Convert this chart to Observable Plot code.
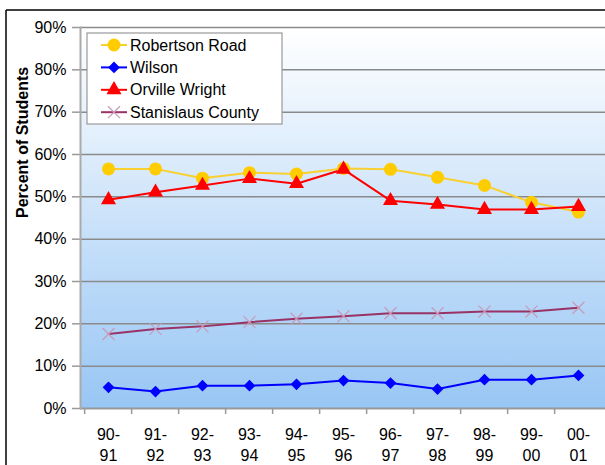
<!DOCTYPE html>
<html><head><meta charset="utf-8">
<script src="https://cdn.jsdelivr.net/npm/d3@7"></script>
<script src="https://cdn.jsdelivr.net/npm/@observablehq/plot@0.6"></script>
<style>body{margin:0;background:#fff;font-family:"Liberation Sans",Arial,sans-serif}</style>
</head><body><div id="chart"></div><script>
const years = ["90-91","91-92","92-93","93-94","94-95","95-96","96-97","97-98","98-99","99-00","00-01"];
const robertsonRoad = [56.6,56.6,54.4,55.7,55.4,56.7,56.5,54.6,52.7,48.7,46.4];
const wilson = [5.0,4.0,5.4,5.4,5.7,6.6,6.0,4.6,6.8,6.8,7.8];
const orvilleWright = [49.3,51.1,52.7,54.3,53.1,56.5,49.1,48.2,47.0,47.0,47.7];
const stanislausCounty = [17.6,18.8,19.4,20.4,21.2,21.8,22.5,22.5,22.9,22.9,23.8];
const yTicks = [0,10,20,30,40,50,60,70,80,90];
const seriesNames = ["Robertson Road","Wilson","Orville Wright","Stanislaus County"];
const seriesValues = [robertsonRoad, wilson, orvilleWright, stanislausCounty];

const styles = [
  {line:"#F8D030", fill:"#FFCC00", stroke:"none", symbol:"circle", d3s:d3.symbolCircle, r:6.5, sw:2},
  {line:"#0000FF", fill:"#0000FF", stroke:"none", symbol:"diamond2", d3s:d3.symbolDiamond2, r:5.3, sw:2},
  {line:"#FF0000", fill:"#FF0000", stroke:"none", symbol:"triangle", d3s:d3.symbolTriangle, r:5.6, sw:2},
  {line:"#993366", fill:"none", stroke:"#C89AB8", symbol:"times", d3s:d3.symbolTimes, r:5.5, sw:2}
];

const table = seriesNames.flatMap((s, i) => years.map((y, j) => ({series: s, year: y, value: seriesValues[i][j]})));

const W = 605, H = 465, mL = 80, mR = 0, mT = 27, mB = 57;
const step = (W - mL - mR) / years.length;

const marks = [
  Plot.frame({fill: "url(#bg)", stroke: null}),
  Plot.gridY(yTicks, {stroke: "#8a8a8a", strokeOpacity: 1, strokeWidth: 1.5}),
  Plot.axisX({tickSize: 6, dx: -step / 2, tickFormat: () => "", stroke: "#999", strokeWidth: 1.5, label: null}),
  Plot.axisX({tickSize: 0, tickPadding: 17, tickFormat: d => d.replace("-", "-\n"), lineHeight: 1.3, fontSize: 16, label: null}),
  Plot.ruleY([0], {stroke: "#999", strokeWidth: 1.5}),
  Plot.axisY(yTicks, {tickSize: 8, tickPadding: 6, tickFormat: d => d + "%", stroke: "#999", strokeWidth: 1.5, fontSize: 16, label: null}),
  Plot.frame({anchor: "left", stroke: "#aaa", strokeWidth: 2}),
  Plot.text(["Percent of Students"], {frameAnchor: "left", rotate: -90, dx: -58, fontWeight: "bold", fontSize: 16, fill: "#000"})
];
seriesNames.forEach((s, i) => {
  const st = styles[i];
  const data = table.filter(d => d.series === s);
  marks.push(Plot.line(data, {x: "year", y: "value", stroke: st.line, strokeWidth: st.sw}));
});
seriesNames.forEach((s, i) => {
  const st = styles[i];
  const data = table.filter(d => d.series === s);
  marks.push(Plot.dot(data, {x: "year", y: "value", symbol: () => st.symbol, r: st.r, fill: st.fill, stroke: st.stroke, strokeWidth: 1.2}));
});

const chart = Plot.plot({
  width: W, height: H, marginLeft: mL, marginRight: mR, marginTop: mT, marginBottom: mB,
  style: {fontFamily: "'Liberation Sans', Arial, sans-serif", fontSize: "16px", color: "#000", background: "transparent", overflow: "visible"},
  x: {type: "point", domain: years, padding: 0.5, align: 0.5, axis: null},
  y: {domain: [0, 90], axis: null},
  symbol: {type: "identity"},
  marks
});

const svg = d3.select(chart);
const defs = svg.insert("defs", ":first-child");
const grad = defs.append("linearGradient").attr("id", "bg").attr("x1", 0).attr("y1", 0).attr("x2", 0).attr("y2", 1);
grad.append("stop").attr("offset", "0%").attr("stop-color", "#ffffff");
grad.append("stop").attr("offset", "100%").attr("stop-color", "#98c6f4");

// outer frame lines
svg.append("line").attr("x1", 6).attr("y1", 10).attr("x2", W).attr("y2", 10).attr("stroke", "#000").attr("stroke-width", 1.5);
svg.append("line").attr("x1", 6).attr("y1", 10).attr("x2", 6).attr("y2", H).attr("stroke", "#000").attr("stroke-width", 1.5);

// legend
const lg = svg.append("g").attr("font-family", "'Liberation Sans', Arial, sans-serif").attr("font-size", 16).attr("text-anchor", "start");
lg.append("rect").attr("x", 87).attr("y", 33).attr("width", 195).attr("height", 91).attr("fill", "#fff").attr("stroke", "#999").attr("stroke-width", 1.2);
seriesNames.forEach((s, i) => {
  const st = styles[i];
  const y = 45 + i * 22.4;
  lg.append("line").attr("x1", 101).attr("x2", 127).attr("y1", y).attr("y2", y).attr("stroke", st.line).attr("stroke-width", st.sw);
  lg.append("path").attr("d", d3.symbol(st.d3s, Math.PI * st.r * st.r)()).attr("transform", `translate(114,${y})`)
    .attr("fill", st.fill).attr("stroke", st.stroke).attr("stroke-width", 1.2);
  lg.append("text").attr("x", 130).attr("y", y).attr("dy", "0.35em").attr("text-anchor", "start").attr("fill", "#000").text(s);
});

document.getElementById("chart").appendChild(chart);
</script></body></html>
